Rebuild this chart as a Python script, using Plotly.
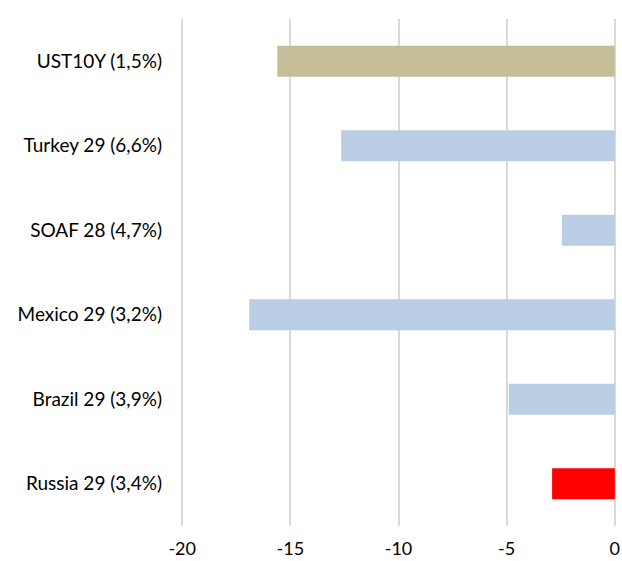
import plotly.graph_objects as go

categories = ["UST10Y (1,5%)", "Turkey 29 (6,6%)", "SOAF 28 (4,7%)",
              "Mexico 29 (3,2%)", "Brazil 29 (3,9%)", "Russia 29 (3,4%)"]
values = [-15.6, -12.65, -2.45, -16.9, -4.9, -2.9]
colors = ["#c4bd97", "#b9cde5", "#b9cde5", "#b9cde5", "#b9cde5", "#ff0000"]
xtick_vals = [-20, -15, -10, -5, 0]
xtick_text = ["-20", "-15", "-10", "-5", "0"]

fig = go.Figure(go.Bar(
    x=values, y=categories, orientation="h",
    marker=dict(color=colors, line=dict(width=0)),
))

fig.update_layout(
    width=622, height=561,
    margin=dict(l=180, r=5, t=19, b=35),
    plot_bgcolor="white", paper_bgcolor="white",
    bargap=0.634,
    showlegend=False,
    font=dict(family="Lato, Open Sans, sans-serif", size=19, color="#000000"),
)
fig.update_xaxes(
    range=[-20.1, 0.1], tickvals=xtick_vals, ticktext=xtick_text,
    showgrid=True, gridcolor="#d9d9d9", gridwidth=2,
    zeroline=False, showline=False, ticks="",
    ticklabelstandoff=10, automargin=False, ticklabeloverflow="allow",
    tickfont=dict(size=18),
)
fig.update_yaxes(
    categoryorder="array", categoryarray=categories[::-1],
    showgrid=False, zeroline=False, showline=False, ticks="",
    ticklabelstandoff=17, automargin=False,
    tickfont=dict(size=19),
)

fig.write_html(
    "out.html",
    config={"displayModeBar": False},
    post_script="document.body.style.margin='0px';document.body.style.overflow='hidden';",
)
